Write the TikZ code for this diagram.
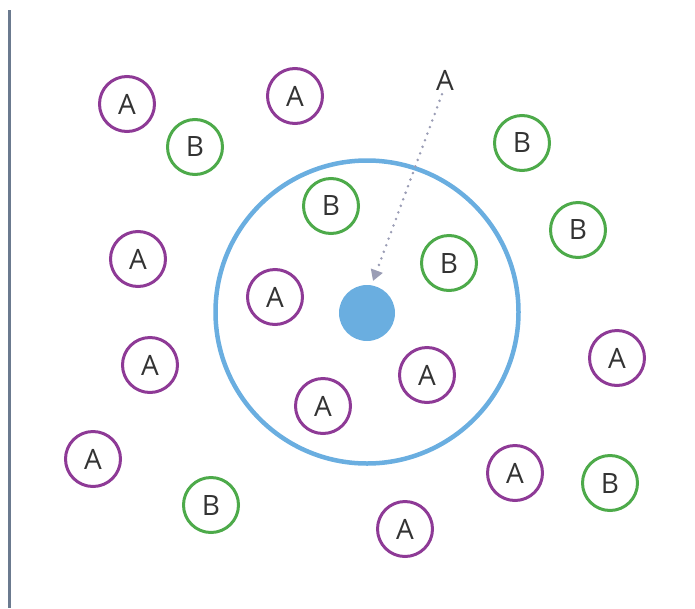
\documentclass[tikz,border=0pt]{standalone}
\usepackage{fontspec}
\setmainfont{Open Sans}
\usetikzlibrary{arrows.meta}
\definecolor{cpurple}{HTML}{8E3A96}
\definecolor{cgreen}{HTML}{4DAA4A}
\definecolor{cblue}{HTML}{6AAEE0}
\definecolor{cline}{HTML}{6B7A8F}
\definecolor{carrow}{HTML}{9A9DB5}
\definecolor{ctext}{HTML}{333333}
\tikzset{
  base/.style={circle, minimum size=55pt, inner sep=0pt, line width=3pt, text=ctext, font=\fontsize{28}{28}\selectfont},
  pa/.style={base, draw=cpurple},
  pb/.style={base, draw=cgreen},
}
\begin{document}
\begin{tikzpicture}[x=1pt,y=-1pt]
\useasboundingbox (0,0) rectangle (695,608);
\draw[cline, line width=3pt] (9,10) -- (9,608);
\node[circle, draw=cblue, line width=4.5pt, minimum size=303pt, inner sep=0pt] (big) at (367,312) {};
\node[circle, fill=cblue, minimum size=56pt, inner sep=0pt] (core) at (367,313) {};
\node[pa] (a1) at (127,104) {A};
\node[pb] (b1) at (195,147) {B};
\node[pa] (a2) at (295,96) {A};
\node[pb] (b2) at (522,143) {B};
\node[pb] (b3) at (578,230) {B};
\node[pa] (a3) at (138,259) {A};
\node[pb] (b4) at (331,206) {B};
\node[pb] (b5) at (449,263) {B};
\node[pa] (a4) at (275,297) {A};
\node[pa] (a5) at (150,365) {A};
\node[pa] (a6) at (617,358) {A};
\node[pa] (a7) at (427,375) {A};
\node[pa] (a8) at (323,406) {A};
\node[pa] (a9) at (93,459) {A};
\node[pa] (a10) at (515,473) {A};
\node[pb] (b6) at (610,483) {B};
\node[pb] (b7) at (211,505) {B};
\node[pa] (a11) at (405,529) {A};
\node[text=ctext, font=\fontsize{28}{28}\selectfont, inner sep=2pt] (free) at (445,80) {A};
\coordinate (tip) at (373,281);
\draw[carrow, line width=2.8pt, dash pattern=on 0pt off 7pt, line cap=round, -{Triangle[length=11pt,width=12pt,line cap=butt]}] (free.south) ++(-3,2) -- (tip);
\end{tikzpicture}
\end{document}
